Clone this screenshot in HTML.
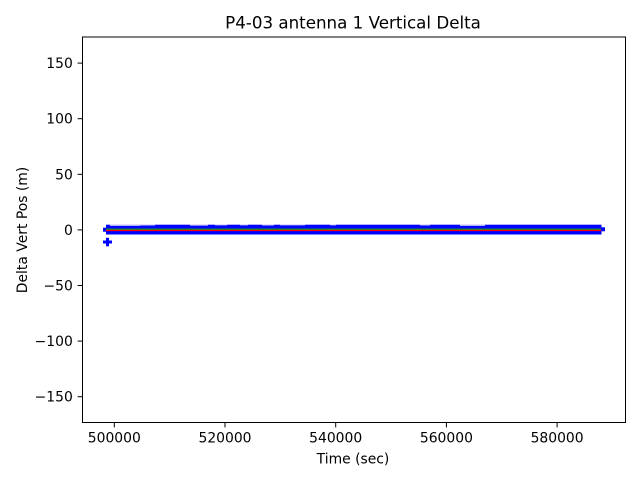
<!DOCTYPE html>
<html><head><meta charset="utf-8"><style>
html,body{margin:0;padding:0;background:#fff;}
svg{display:block;}
text{font-family:"DejaVu Sans","Liberation Sans",sans-serif;fill:#000;}
</style></head><body>
<svg width="640" height="480" viewBox="0 0 640 480" xmlns="http://www.w3.org/2000/svg">
<rect width="640" height="480" fill="#fff"/>
<!-- data band -->
<rect x="106" y="224.7" width="495.5" height="9.8" fill="#0000ff"/>
<rect x="103" y="227.7" width="4" height="4" fill="#0000ff"/>
<rect x="600" y="227.3" width="5" height="4" fill="#0000ff"/>
<!-- notches on top edge -->
<g fill="#fff">
<rect x="110" y="224.7" width="30" height="1"/>
<rect x="140" y="224.7" width="15" height="0.7"/>
<rect x="190" y="224.7" width="18" height="0.8"/>
<rect x="215" y="224.7" width="12" height="0.6"/>
<rect x="240" y="224.7" width="8" height="0.6"/>
<rect x="262" y="224.7" width="12" height="0.7"/>
<rect x="280" y="224.7" width="25" height="0.6"/>
<rect x="420" y="224.7" width="10" height="0.7"/>
<rect x="460" y="224.7" width="25" height="1"/>
<rect x="330" y="224.7" width="6" height="0.6"/>
</g>
<!-- big plus outlier -->
<rect x="103" y="240.5" width="9" height="3" fill="#0000ff"/>
<rect x="106" y="237.8" width="3" height="8.5" fill="#0000ff"/>
<!-- green and red lines -->
<line x1="106" y1="229.2" x2="601" y2="229.2" stroke="#00c000" stroke-width="1.1"/>
<line x1="106" y1="230.4" x2="601" y2="230.4" stroke="#ff0000" stroke-width="1.4"/>
<!-- axes frame -->
<rect x="82.5" y="37" width="543" height="385.5" fill="none" stroke="#000" stroke-width="1"/>
<!-- y ticks -->
<g stroke="#000" stroke-width="1">
<line x1="77.6" y1="63.1" x2="82.5" y2="63.1"/>
<line x1="77.6" y1="118.7" x2="82.5" y2="118.7"/>
<line x1="77.6" y1="174.3" x2="82.5" y2="174.3"/>
<line x1="77.6" y1="229.9" x2="82.5" y2="229.9"/>
<line x1="77.6" y1="285.5" x2="82.5" y2="285.5"/>
<line x1="77.6" y1="341.1" x2="82.5" y2="341.1"/>
<line x1="77.6" y1="396.7" x2="82.5" y2="396.7"/>
</g>
<g font-size="13.9" text-anchor="end">
<text x="72.8" y="68.1">150</text>
<text x="72.8" y="123.7">100</text>
<text x="72.8" y="179.3">50</text>
<text x="72.8" y="234.9">0</text>
<text x="72.8" y="290.5">−50</text>
<text x="72.8" y="346.1">−100</text>
<text x="72.8" y="401.7">−150</text>
</g>
<!-- x ticks -->
<g stroke="#000" stroke-width="1">
<line x1="114.3" y1="422.5" x2="114.3" y2="427.4"/>
<line x1="225" y1="422.5" x2="225" y2="427.4"/>
<line x1="335.7" y1="422.5" x2="335.7" y2="427.4"/>
<line x1="446.4" y1="422.5" x2="446.4" y2="427.4"/>
<line x1="557.1" y1="422.5" x2="557.1" y2="427.4"/>
</g>
<g font-size="13.9" text-anchor="middle">
<text x="114.3" y="442.5">500000</text>
<text x="225" y="442.5">520000</text>
<text x="335.7" y="442.5">540000</text>
<text x="446.4" y="442.5">560000</text>
<text x="557.1" y="442.5">580000</text>
</g>
<text x="353" y="463.3" font-size="13.9" text-anchor="middle">Time (sec)</text>
<text transform="translate(27,230) rotate(-90)" font-size="13.9" text-anchor="middle">Delta Vert Pos (m)</text>
<text x="353" y="28.5" font-size="16.7" text-anchor="middle">P4-03 antenna 1 Vertical Delta</text>
</svg>
</body></html>
